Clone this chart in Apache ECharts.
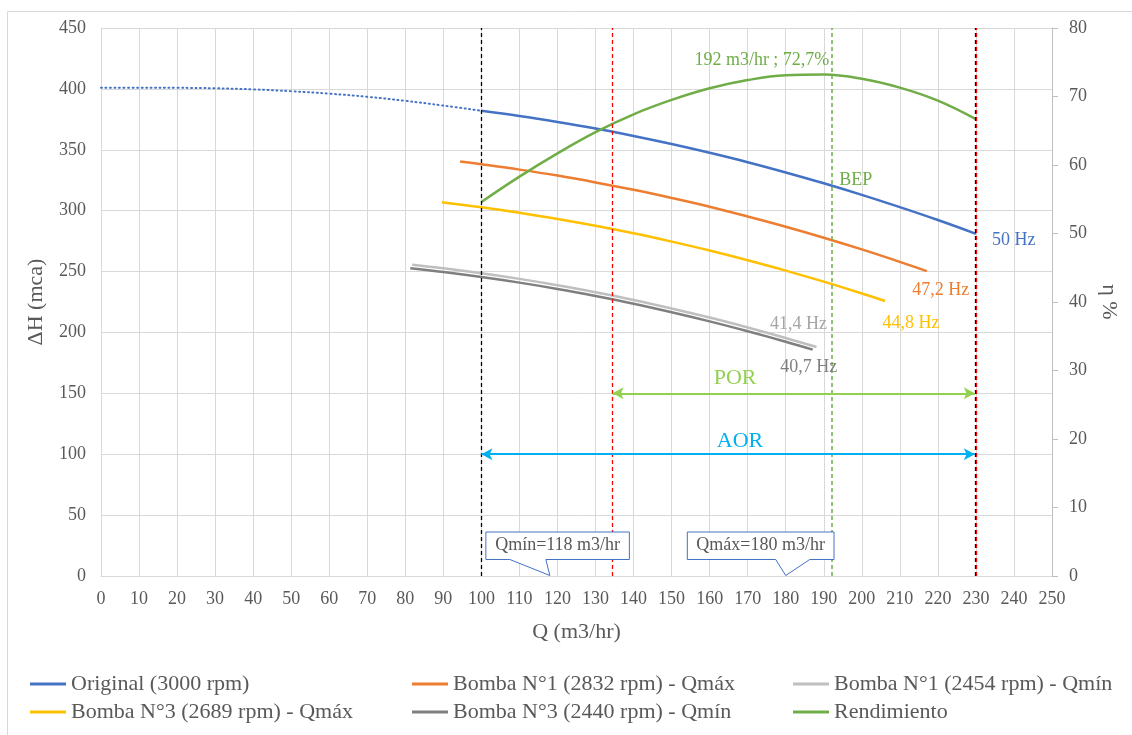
<!DOCTYPE html>
<html><head><meta charset="utf-8">
<script src="https://cdn.jsdelivr.net/npm/echarts@6/dist/echarts.min.js"></script>
<style>html,body{margin:0;padding:0;background:#fff}#c{width:1132px;height:735px}</style>
</head><body><div id="c"></div>
<script>
// ---------- DATA ----------
const qOrigDotted = [0,10,20,30,40,50,60,70,80,90,100];
const hOrigDotted = [401,401,400.9,400.5,399.6,398.1,396.1,393.5,390.2,386.3,382];
const qOrig = [100,110,120,130,140,150,160,170,180,190,200,210,220,230];
const hOrig = [382,377.7,372.8,367.4,361.3,354.7,347.5,339.8,331.4,322.5,313,302.9,292.3,281];
const qB1max = [94.4,100,110,120,130,140,150,160,170,180,190,200,210,217.1];
const hB1max = [340.4,338.1,333.7,328.8,323.2,317.1,310.4,303.2,295.2,286.8,277.8,268.2,258,250.4];
const qB3max = [89.6,100,110,120,130,140,150,160,170,180,190,200,206.1];
const hB3max = [306.9,302.8,298.3,293.2,287.6,281.4,274.6,267.3,259.3,250.8,241.7,232,225.8];
const qB1min = [81.8,90,100,110,120,130,140,150,160,170,180,188.1];
const hB1min = [255.6,252.7,248.6,244,238.8,233,226.7,219.7,212.2,204.1,195.5,188];
const qB3min = [81.3,90,100,110,120,130,140,150,160,170,180,187.1];
const hB3min = [252.7,249.6,245.5,240.9,235.7,229.9,223.6,216.6,209.1,201,192.4,185.9];
const qEff = [100,110,120,130,140,150,160,170,180,190,200,210,220,230];
const etaEff = [54.6,58.3,61.7,64.8,67.4,69.5,71.2,72.4,73.1,73.2,72.6,71.3,69.4,66.7];
const seriesNames = ['Original (3000 rpm)','Bomba N°1 (2832 rpm) - Qmáx','Bomba N°1 (2454 rpm) - Qmín',
                     'Bomba N°3 (2689 rpm) - Qmáx','Bomba N°3 (2440 rpm) - Qmín','Rendimiento'];
const qLinesBlack = [100, 229.7];
const qLinesRed = [134.5, 230.2];
const qBEP = 192, etaBEP = 72.7;
const qPOR = [134.5, 229.7], hPOR = 150;
const qAOR = [100, 229.7], hAOR = 100;
const qMin = 118, qMax = 180;
const xTicks = {min:0, max:250, interval:10};
const yTicks = {min:0, max:450, interval:50};
const y2Ticks = {min:0, max:80, interval:10};

// ---------- STYLE ----------
const FONT = '"Liberation Serif", "Times New Roman", serif';
const TXT = '#595959';
const C = {blue:'#4472C4', orange:'#ED7D31', lgray:'#BFBFBF', yellow:'#FFC000', dgray:'#7F7F7F', green:'#70AD47'};
const zip = (a,b) => a.map((v,i)=>[v,b[i]]);
const lineS = (name, q, h, color, extra) => Object.assign({
  name, type:'line', data: zip(q,h), showSymbol:false, symbol:'none', smooth:0.4,
  lineStyle:{color, width:2.5}, itemStyle:{color}, emphasis:{disabled:true}, silent:true, z:3
}, extra||{});

const vLine = (x, color, w) => ({xAxis:x, lineStyle:{color, type:[4,3], width:w||1.3}});

const legendBase = {
  orient:'vertical', top:672, padding:0, itemGap:4, icon:'rect', itemWidth:36, itemHeight:3, selectedMode:false,
  textStyle:{fontFamily:FONT, fontSize:22, color:TXT, lineHeight:24}
};

const option = {
  animation:false,
  backgroundColor:'#fff',
  textStyle:{fontFamily:FONT},
  grid:{left:101, right:80, top:28, bottom:159, containLabel:false},
  legend:[
    Object.assign({left:30, data:[seriesNames[0], seriesNames[3]]}, legendBase),
    Object.assign({left:412, data:[seriesNames[1], seriesNames[4]]}, legendBase),
    Object.assign({left:793, data:[seriesNames[2], seriesNames[5]]}, legendBase)
  ],
  xAxis:{
    type:'value', min:xTicks.min, max:xTicks.max, interval:xTicks.interval,
    name:'Q (m3/hr)', nameLocation:'middle', nameGap:45,
    nameTextStyle:{fontFamily:FONT, fontSize:22, color:TXT},
    axisLine:{show:true, lineStyle:{color:'#D9D9D9'}}, axisTick:{show:false},
    axisLabel:{fontFamily:FONT, fontSize:18, color:TXT, margin:14},
    splitLine:{show:true, lineStyle:{color:'#D9D9D9', width:1}}
  },
  yAxis:[{
    type:'value', min:yTicks.min, max:yTicks.max, interval:yTicks.interval,
    name:'ΔH (mca)', nameLocation:'middle', nameGap:54,
    nameTextStyle:{fontFamily:FONT, fontSize:22, color:TXT},
    axisLine:{show:false}, axisTick:{show:false},
    axisLabel:{fontFamily:FONT, fontSize:18, color:TXT, margin:15},
    splitLine:{show:true, lineStyle:{color:'#D9D9D9', width:1}}
  },{
    type:'value', position:'right', min:y2Ticks.min, max:y2Ticks.max, interval:y2Ticks.interval,
    name:'η %', nameLocation:'middle', nameGap:42, nameRotate:-90,
    nameTextStyle:{fontFamily:FONT, fontSize:22, color:TXT},
    axisLine:{show:true, lineStyle:{color:'#BFBFBF'}},
    axisTick:{show:true, inside:false, length:6, lineStyle:{color:'#BFBFBF'}},
    axisLabel:{fontFamily:FONT, fontSize:18, color:TXT, margin:17},
    splitLine:{show:false}
  }],
  series:[
    lineS(seriesNames[0], qOrig, hOrig, C.blue),
    lineS('Original (extrapolada)', qOrigDotted, hOrigDotted, C.blue, {
      lineStyle:{color:C.blue, width:2, type:[1,3.5], cap:'round'},
      markLine:{silent:true, symbol:'none', label:{show:false}, animation:false,
        data:[vLine(qLinesBlack[0],'#000'), vLine(qLinesRed[0],'#FF0000'), vLine(qBEP,'#70AD47',1.5),
              vLine(qLinesBlack[1],'#000'), vLine(qLinesRed[1],'#FF0000')]}
    }),
    lineS(seriesNames[1], qB1max, hB1max, C.orange, {
      markLine:{silent:true, symbol:['arrow','arrow'], symbolSize:[9,11], label:{show:false}, animation:false,
        data:[
          [{coord:[qPOR[0],hPOR], lineStyle:{color:'#92D050', width:2, type:'solid'}},{coord:[qPOR[1],hPOR]}],
          [{coord:[qAOR[0],hAOR], lineStyle:{color:'#00B0F0', width:2, type:'solid'}},{coord:[qAOR[1],hAOR]}]
        ]}
    }),
    lineS(seriesNames[2], qB1min, hB1min, C.lgray),
    lineS(seriesNames[3], qB3max, hB3max, C.yellow),
    lineS(seriesNames[4], qB3min, hB3min, C.dgray),
    lineS(seriesNames[5], qEff, etaEff, C.green, {yAxisIndex:1})
  ]
};

const chart = echarts.init(document.getElementById('c'), null, {renderer:'canvas'});
chart.setOption(option);

// ---------- ANNOTATIONS (anchored to data coordinates) ----------
const P = (x,y) => chart.convertToPixel({seriesIndex:0}, [x,y]);
const P2 = (x,y) => chart.convertToPixel({seriesIndex:6}, [x,y]);
const txt = (text, pt, dx, dy, color, size, align) => ({
  type:'text', silent:true, z:50,
  style:{text, x:pt[0]+dx, y:pt[1]+dy, fill:color, fontFamily:FONT, fontSize:size,
         align:align||'center', verticalAlign:'middle', textAlign:align||'center', textVerticalAlign:'middle'}
});
const last = a => a[a.length-1];
const g = [];
g.push({type:'rect', silent:true, z:0, shape:{x:7.5, y:11.5, width:1300, height:900},
        style:{fill:'none', stroke:'#D9D9D9', lineWidth:1}});
g.push(txt('50 Hz', P(last(qOrig), last(hOrig)), 16, 6, C.blue, 18, 'left'));
g.push(txt('47,2 Hz', P(last(qB1max), last(hB1max)), 14, 19, C.orange, 18));
g.push(txt('44,8 Hz', P(last(qB3max), last(hB3max)), 26, 22, C.yellow, 18));
g.push(txt('41,4 Hz', P(last(qB1min), last(hB1min)), -18, -23, '#A5A5A5', 18));
g.push(txt('40,7 Hz', P(last(qB3min), last(hB3min)), -4, 18, C.dgray, 18));
g.push(txt('192 m3/hr ; 72,7%', P2(qBEP, etaBEP), -2, -18, C.green, 18, 'right'));
g.push(txt('BEP', P(qBEP, 325), 8, 0, C.green, 18, 'left'));
g.push(txt('POR', P(166.7, hPOR), 0, -15, '#92D050', 22));
g.push(txt('AOR', P(168, hAOR), 0, -13, '#00B0F0', 22));

function callout(label, q, l, r, b1, b2) {
  const t = P(q, 0);
  const tx = t[0], ty = t[1] - 0.5;
  const T = ty - 43.5, B = ty - 16;
  const L = tx + l, R = tx + r;
  g.push({type:'polygon', silent:true, z:40,
    shape:{points:[[L,T],[R,T],[R,B],[tx+b2,B],[tx,ty],[tx+b1,B],[L,B]]},
    style:{fill:'#fff', stroke:'#4472C4', lineWidth:1}});
  g.push(txt(label, [(L+R)/2, (T+B)/2], 0, 0, TXT, 18));
}
callout('Qmín=' + qMin + ' m3/hr', qMin, -64, 79.5, -40, -4);
callout('Qmáx=' + qMax + ' m3/hr', qMax, -98.4, 48.3, -10, 24);

chart.setOption({graphic:{elements:g}});
</script>
</body></html>
